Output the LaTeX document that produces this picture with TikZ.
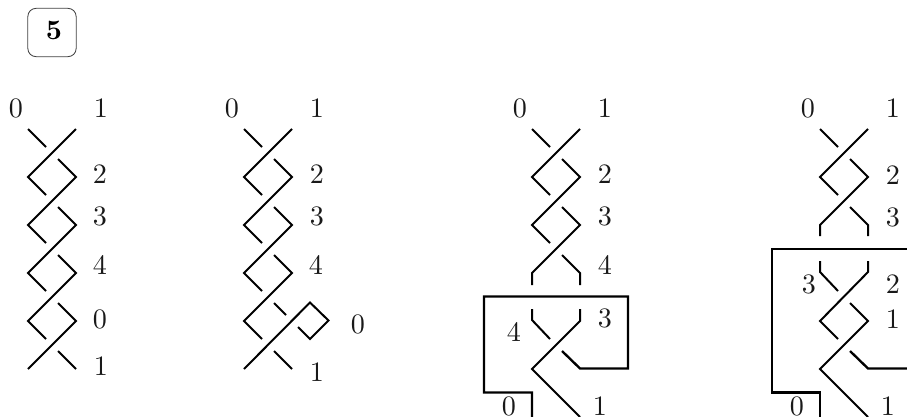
\documentclass[tikz,border=0pt]{standalone}
\usepackage{tikz}
\font\numfont=cmr10 at 24pt
\font\stagefont=cmbx10 at 24pt
\tikzset{
    strand/.style={draw=black, line width=1.7pt},
    frame/.style={draw=black, line width=2pt},
    numlabel/.style={inner sep=0pt, text=black!90, font=\numfont},
    stagebox/.style={rectangle, draw=black!75, line width=0.7pt, rounded corners=7pt, minimum size=1.45cm, inner sep=0pt}
}

\begin{document}
\begin{tikzpicture}[x=0.03cm, y=-0.03cm]
            \useasboundingbox (0,0) rectangle (907,416);
            \node (stage) [stagebox] at (52,32.5) {};
            \node (stagenum) [inner sep=0pt, font=\stagefont] at (54,30) {5};

            % first braid
            \node (aTopL) [numlabel] at (16,108) {0};
            \node (aTopR) [numlabel] at (101,108) {1};
            \node (aTwo) [numlabel] at (100,174) {2};
            \node (aThree) [numlabel] at (100,216) {3};
            \node (aFour) [numlabel] at (100,265) {4};
            \node (aZero) [numlabel] at (100,319) {0};
            \node (aOne) [numlabel] at (101,366) {1};
            \draw [strand] (28,129) -- (46,147);
            \draw [strand] (76,129) -- (28,177) -- (46,195);
            \draw [strand] (58,159) -- (76,177) -- (28,225) -- (46,243);
            \draw [strand] (58,207) -- (76,225) -- (28,273) -- (46,291);
            \draw [strand] (58,255) -- (76,273) -- (28,321) -- (46,339);
            \draw [strand] (58,303) -- (76,321) -- (28,369);
            \draw [strand] (58,351) -- (76,369);

            % second braid
            \node (bTopL) [numlabel] at (232,108) {0};
            \node (bTopR) [numlabel] at (317,108) {1};
            \node (bTwo) [numlabel] at (317,174) {2};
            \node (bThree) [numlabel] at (317,216) {3};
            \node (bFour) [numlabel] at (316,265) {4};
            \node (bZero) [numlabel] at (358,324) {0};
            \node (bOne) [numlabel] at (317,372) {1};
            \draw [strand] (244,129) -- (262,147);
            \draw [strand] (292,129) -- (244,177) -- (262,195);
            \draw [strand] (274,159) -- (292,177) -- (244,225) -- (262,243);
            \draw [strand] (274,207) -- (292,225) -- (244,273) -- (262,291);
            \draw [strand] (274,255) -- (292,273) -- (244,321) -- (262,339);
            \draw [strand] (274,303) -- (286,315);
            \draw [strand] (244,369) -- (310,302.5) -- (328.5,320.5) -- (310,339) -- (298,327);
            \draw [strand] (274,351) -- (292,369);

            % third braid
            \node (cTopL) [numlabel] at (520,108) {0};
            \node (cTopR) [numlabel] at (605,108) {1};
            \node (cTwo) [numlabel] at (605,174) {2};
            \node (cThree) [numlabel] at (605,216) {3};
            \node (cFour) [numlabel] at (605,265) {4};
            \node (cInR) [numlabel] at (605,318) {3};
            \node (cInL) [numlabel] at (514,332) {4};
            \node (cBotL) [numlabel] at (509,406) {0};
            \node (cBotR) [numlabel] at (600,406) {1};
            \draw [strand] (532,129) -- (550,147);
            \draw [strand] (580,129) -- (532,177) -- (550,195);
            \draw [strand] (562,159) -- (580,177) -- (532,225) -- (550,243);
            \draw [strand] (562,207) -- (580,225) -- (532,273) -- (532,285);
            \draw [strand] (562,255) -- (580,273) -- (580,285);
            \draw [strand] (532,309) -- (532,320) -- (550,339);
            \draw [strand] (580,309) -- (580,321) -- (532,369) -- (580,417);
            \draw [frame] (562,351) -- (580,368.5) -- (628,368.5) -- (628,296.5) -- (484,296.5) -- (484,392.5) -- (532,392.5) -- (532,417);

            % fourth braid
            \node (dTopL) [numlabel] at (808,108) {0};
            \node (dTopR) [numlabel] at (893,108) {1};
            \node (dTwo) [numlabel] at (893,175) {2};
            \node (dThree) [numlabel] at (893,217) {3};
            \node (dInL) [numlabel] at (809,284) {3};
            \node (dInR) [numlabel] at (893,284) {2};
            \node (dOne) [numlabel] at (893,319) {1};
            \node (dBotL) [numlabel] at (797,406) {0};
            \node (dBotR) [numlabel] at (888,406) {1};
            \draw [strand] (820,129) -- (838,147);
            \draw [strand] (868,129) -- (820,177) -- (838,195);
            \draw [strand] (850,159) -- (868,177) -- (820,225) -- (820,236);
            \draw [strand] (850,207) -- (868,225) -- (868,236);
            \draw [strand] (820,261) -- (820,272) -- (838,291);
            \draw [strand] (868,261) -- (868,272) -- (820,321) -- (838,339);
            \draw [strand] (850,303) -- (868,321) -- (820,369) -- (868,417);
            \draw [frame] (850,351) -- (868,368.5) -- (907,368.5);
            \draw [frame] (907,249) -- (772,249) -- (772,392.5) -- (820,392.5) -- (820,417);
        \end{tikzpicture}
\end{document}
